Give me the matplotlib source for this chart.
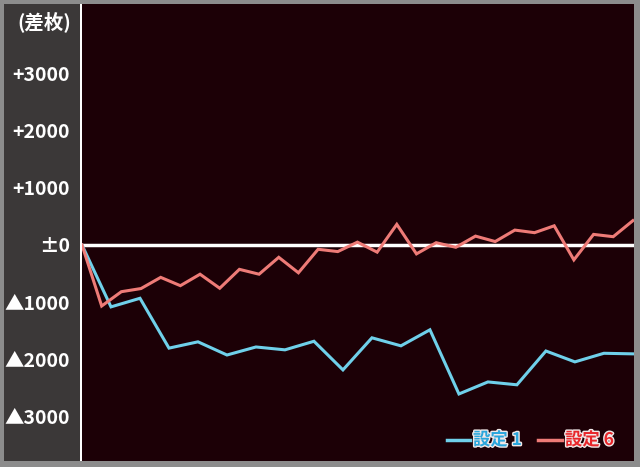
import matplotlib.pyplot as plt
from matplotlib.patches import Rectangle
import matplotlib.patheffects as pe

# chart values (差枚)
setting1 = [0, -1080, -930, -1800, -1690, -1920, -1780, -1830, -1680, -2180,
            -1620, -1760, -1480, -2600, -2390, -2440, -1850, -2040, -1890, -1900]
setting6 = [0, -1065, -815, -760, -565, -710, -510, -755, -425, -510,
            -215, -485, -75, -115, 50, -125, 360, -155, 40, -40,
            155, 60, 260, 215, 335, -260, 185, 145, 425]
ytick_vals = [3000, 2000, 1000, 0, -1000, -2000, -3000]
ytick_labels = ["+3000", "+2000", "+1000", "±0", "▲1000", "▲2000", "▲3000"]
legend_labels = ["設定 1", "設定 6"]

W, H = 640, 467
JP = ["Noto Sans CJK JP", "DejaVu Sans"]
fig = plt.figure(figsize=(6.4, 4.67), dpi=100)
fig.patch.set_facecolor("#8c8c8c")

# left label panel
fig.patches.append(Rectangle((4 / W, 1 - 461 / H), 76 / W, 457 / H,
                             transform=fig.transFigure, facecolor="#3b3838",
                             edgecolor="none", zorder=-5))

ax = fig.add_axes([82 / W, 1 - 461 / H, (634 - 82) / W, 457 / H])
ax.set_facecolor("#1c0006")
for s in ax.spines.values():
    s.set_visible(False)
# white divider line at left edge
fig.patches.append(Rectangle((79.5 / W, 1 - 461 / H), 2.2 / W, 457 / H,
                             transform=fig.transFigure, facecolor="white",
                             edgecolor="none", zorder=3))

x1 = [i / (len(setting1) - 1) for i in range(len(setting1))]
x6 = [i / (len(setting6) - 1) for i in range(len(setting6))]

ax.axhline(0, color="white", lw=2.5, zorder=1)
ax.plot(x1, setting1, color="#6fd0ea", lw=2.2, zorder=2, solid_joinstyle="miter")
ax.plot(x6, setting6, color="#ee7b77", lw=2.2, zorder=2, solid_joinstyle="miter")

ax.set_xlim(0, 1.002)
ax.set_ylim(-3770, 4206)
ax.set_xticks([])
ax.set_yticks(ytick_vals)
ax.set_yticklabels(ytick_labels)
ax.tick_params(axis="y", length=0, pad=8.5, colors="white")
for lbl in ax.get_yticklabels():
    lbl.set_fontsize(14)
    lbl.set_fontweight("bold")
    lbl.set_family(JP)

fig.text(71 / W, 1 - 22 / H, "(差枚)", ha="right", va="center", color="white",
         fontsize=14, fontweight="bold", family=JP)

# legend
ly = 1 - 440 / H
halo = [pe.withStroke(linewidth=2, foreground="#f0e8e8")]
fig.lines.append(plt.Line2D([447 / W, 470 / W], [ly, ly], transform=fig.transFigure,
                            color="#6fd0ea", lw=2.5))
fig.text(473 / W, ly, legend_labels[0], ha="left", va="center", color="#2aa6dc",
         fontsize=12.5, fontweight="bold", family=JP, path_effects=halo)
fig.lines.append(plt.Line2D([538 / W, 562 / W], [ly, ly], transform=fig.transFigure,
                            color="#ee7b77", lw=2.5))
fig.text(565 / W, ly, legend_labels[1], ha="left", va="center", color="#e8262a",
         fontsize=12.5, fontweight="bold", family=JP, path_effects=halo)

fig.savefig("out.png", dpi=100, facecolor=fig.get_facecolor())
